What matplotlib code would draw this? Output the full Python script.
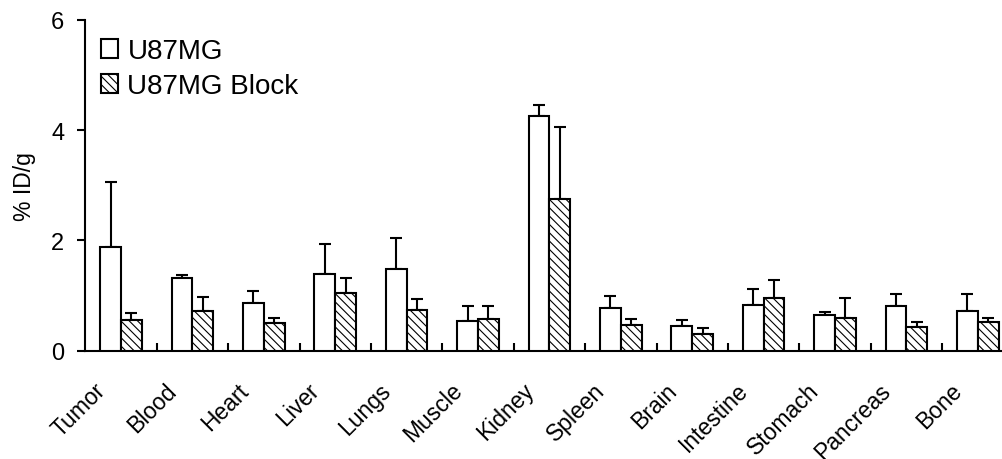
import matplotlib
matplotlib.use("Agg")
import matplotlib.pyplot as plt
import matplotlib.transforms as mtransforms
from matplotlib.legend_handler import HandlerPatch
from matplotlib.patches import Rectangle
import numpy as np

plt.rcParams['font.family'] = ['Liberation Sans', 'DejaVu Sans']
plt.rcParams['hatch.linewidth'] = 0.8

organs = ["Tumor", "Blood", "Heart", "Liver", "Lungs", "Muscle", "Kidney",
          "Spleen", "Brain", "Intestine", "Stomach", "Pancreas", "Bone"]
u87 = [1.88, 1.32, 0.87, 1.39, 1.48, 0.53, 4.26, 0.78, 0.45, 0.83, 0.65, 0.81, 0.72]
u87_err = [1.18, 0.06, 0.22, 0.54, 0.56, 0.28, 0.19, 0.22, 0.10, 0.29, 0.05, 0.22, 0.31]
block = [0.56, 0.72, 0.50, 1.05, 0.74, 0.58, 2.75, 0.47, 0.30, 0.95, 0.59, 0.43, 0.52]
block_err = [0.13, 0.26, 0.09, 0.27, 0.19, 0.23, 1.31, 0.10, 0.11, 0.34, 0.36, 0.09, 0.07]

W, H = 1003, 460
fig = plt.figure(figsize=(W / 100, H / 100), dpi=100)
# axes box in pixels
left, right = 85.3, 1003
bottom, top = 460 - 351.7, 460 - 20.7
ax = fig.add_axes([left / W, bottom / H, (right - left) / W, (top - bottom) / H])

x = np.arange(len(organs))
w = 0.29
ax.bar(x - w / 2, u87, w, color="white", edgecolor="black", linewidth=1.5,
       label="U87MG", zorder=3)
ax.bar(x + w / 2, block, w, color="white", edgecolor="black", linewidth=1.5,
       hatch="\\\\\\\\", label="U87MG Block", zorder=3)
# only the upper half of each error bar
ax.errorbar(x - w / 2, u87, yerr=[np.zeros(len(u87)), u87_err], fmt="none",
            ecolor="black", elinewidth=1.5, capsize=4, capthick=1.5, zorder=2)
ax.errorbar(x + w / 2, block, yerr=[np.zeros(len(block)), block_err], fmt="none",
            ecolor="black", elinewidth=1.5, capsize=4, capthick=1.5, zorder=2)

ax.set_xlim(-0.5, -0.5 + (right - left) / 71.4)
ax.set_ylim(0, 6)
ax.set_yticks([0, 2, 4, 6])
ax.tick_params(axis="y", direction="out", length=6, width=1.5, labelsize=17, pad=9)
ax.set_xticks(x)
ax.set_xticklabels(organs, rotation=45, ha="right", fontsize=16.5)
ax.set_xticks(x[:-1] + 0.5, minor=True)
ax.tick_params(axis="x", which="major", length=0, pad=20)
ax.tick_params(axis="x", which="minor", direction="in", length=6, width=1.5)
offset = mtransforms.ScaledTranslation(-11 / 100, 0, fig.dpi_scale_trans)
for lab in ax.get_xticklabels():
    lab.set_transform(lab.get_transform() + offset)

for s in ["top", "right"]:
    ax.spines[s].set_visible(False)
for s in ["left", "bottom"]:
    ax.spines[s].set_linewidth(1.5)

ax.set_ylabel("% ID/g", fontsize=16.5, labelpad=11)


def square(legend, orig_handle, xdescent, ydescent, width, height, fontsize):
    s = 13 * 72 / 100  # 13 px box
    return Rectangle((-xdescent + (width - s) / 2, -ydescent + (height - s) / 2), s, s)


ax.legend(loc="upper left", bbox_to_anchor=(101 / W, 1 - 39 / H),
          bbox_transform=fig.transFigure, frameon=False, fontsize=20,
          handlelength=0.6, handleheight=0.7, handletextpad=0.35,
          labelspacing=0.33, borderaxespad=0, borderpad=0,
          handler_map={Rectangle: HandlerPatch(patch_func=square)})

fig.savefig("out.png", dpi=100)
